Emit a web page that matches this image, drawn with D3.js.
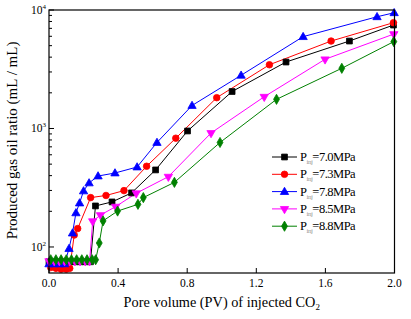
<!DOCTYPE html>
<html><head><meta charset="utf-8">
<script src="https://cdn.jsdelivr.net/npm/d3@7/dist/d3.min.js"></script>
<style>body{margin:0;background:#fff}svg{display:block}text{font-family:"Liberation Serif","Times New Roman",serif}</style>
</head><body><svg id="c" width="411" height="319"></svg>
<script>
const seriesNames = ["7.0MPa","7.3MPa","7.8MPa","8.5MPa","8.8MPa"];
const seriesColors = ["#000000","#ff0000","#0000ff","#ff00ff","#008000"];
const seriesSymbols = ["square","circle","triangle","triangleDown","diamond"];
const p70x = [0.00,0.03,0.06,0.09,0.12,0.15,0.18,0.21,0.24,0.269,0.365,0.478,0.617,0.802,1.060,1.372,1.739,1.994];
const p70y = [75,75,75,75,75,75,75,75,75,222,240,286,447,953,2051,3638,5470,7464];
const p73x = [0.01,0.04,0.07,0.10,0.12,0.146,0.166,0.241,0.330,0.434,0.565,0.734,0.971,1.276,1.633,1.994];
const p73y = [67,66,65,65,66,126,143,261,272,299,480,828,1820,3451,5470,7816];
const p78x = [0.00,0.03,0.06,0.09,0.116,0.136,0.156,0.177,0.200,0.232,0.284,0.382,0.510,0.625,0.828,1.112,1.471,1.899,1.998];
const p78y = [72,72,72,72,97,131,194,235,297,347,397,421,473,762,1563,2812,5957,8770,9480];
const p85x = [0.00,0.03,0.06,0.09,0.12,0.15,0.18,0.21,0.235,0.253,0.298,0.386,0.505,0.691,0.938,1.246,1.598,1.996];
const p85y = [76,76,76,76,76,76,76,76,76,165,186,219,284,392,916,1853,3837,6266];
const p88x = [0.01,0.04,0.07,0.10,0.13,0.16,0.19,0.22,0.25,0.27,0.291,0.313,0.397,0.515,0.546,0.726,0.990,1.317,1.695,1.996];
const p88y = [78,78,78,78,78,78,78,78,78,78,108,166,201,229,261,351,762,1762,3221,5410];
const xTicks = [0.0,0.4,0.8,1.2,1.6,2.0];
const yMajor = [100,1000,10000];
const yExp = ["2","3","4"];
const xs = [p70x,p73x,p78x,p85x,p88x];
const ys = [p70y,p73y,p78y,p85y,p88y];

const svg = d3.select("#c");
const L=49,R=394.5,T=10,B=273;
const x = d3.scaleLinear().domain([0,2]).range([L,R]);
const y = d3.scaleLog().domain([60.3,10000]).range([B,T]);

svg.append("clipPath").attr("id","cp").append("rect").attr("x",L).attr("y",T).attr("width",R-L).attr("height",B-T);

const symMap = {square:d3.symbolSquare,circle:d3.symbolCircle,triangle:d3.symbolTriangle,triangleDown:d3.symbolTriangle,diamond:d3.symbolDiamond};
const symSize = {square:34,circle:34,triangle:30,triangleDown:30,diamond:30};
function drawMarker(g,sym,color,cx,cy){
  const p = g.append("path").attr("d",d3.symbol().type(symMap[sym]).size(symSize[sym])())
    .attr("fill",color).attr("stroke",color).attr("stroke-width",0.8);
  let tr = `translate(${cx},${cy})`;
  if(sym==="triangleDown") tr += " rotate(180)";
  if(sym==="triangle") tr = `translate(${cx},${cy+0.5})`;
  p.attr("transform",tr);
}
const plotG = svg.append("g").attr("clip-path","url(#cp)");
seriesNames.forEach((n,i)=>{
  const pts = xs[i].map((v,k)=>[v,ys[i][k]]);
  plotG.append("path").datum(pts).attr("fill","none").attr("stroke",seriesColors[i]).attr("stroke-width",1)
    .attr("d",d3.line().x(d=>x(d[0])).y(d=>y(d[1])));
});
seriesNames.forEach((n,i)=>{
  const g = svg.append("g");
  xs[i].forEach((v,k)=>drawMarker(g,seriesSymbols[i],seriesColors[i],x(v),y(ys[i][k])));
});

svg.append("rect").attr("x",L).attr("y",T).attr("width",R-L).attr("height",B-T).attr("fill","none").attr("stroke","#000").attr("stroke-width",1.2);

const xa = svg.append("g");
xTicks.forEach(t=>{
  xa.append("line").attr("x1",x(t)).attr("x2",x(t)).attr("y1",B).attr("y2",B-5).attr("stroke","#000");
  xa.append("text").attr("x",x(t)).attr("y",B+14).attr("text-anchor","middle").attr("font-size",11.5).text(d3.format(".1f")(t));
});
const ya = svg.append("g");
for(let d=100; d<10000; d*=10){
  for(let m=2;m<=9;m++){
    const v=d*m;
    ya.append("line").attr("x1",L).attr("x2",L+3).attr("y1",y(v)).attr("y2",y(v)).attr("stroke","#000");
  }
}
yMajor.forEach((v,i)=>{
  ya.append("line").attr("x1",L).attr("x2",L+5).attr("y1",y(v)).attr("y2",y(v)).attr("stroke","#000");
  const t = ya.append("text").attr("x",L-3).attr("y",y(v)+4).attr("text-anchor","end").attr("font-size",11.5);
  t.append("tspan").text("10");
  t.append("tspan").attr("dy",-5).attr("font-size",7).text(yExp[i]);
});

svg.append("text").attr("x",(L+R)/2).attr("y",307).attr("text-anchor","middle").attr("font-size",14.3)
  .call(t=>{t.append("tspan").text("Pore volume (PV) of injected CO");t.append("tspan").attr("dy",3).attr("font-size",9).text("2");});
svg.append("text").attr("transform",`translate(17,${(T+B)/2 - 1}) rotate(-90)`).attr("text-anchor","middle").attr("font-size",15)
  .text("Produced gas oil ratio (mL / mL)");

const lg = svg.append("g");
seriesNames.forEach((n,i)=>{
  const ly = 157 + i*17.3;
  lg.append("line").attr("x1",272).attr("x2",297).attr("y1",ly).attr("y2",ly).attr("stroke",seriesColors[i]).attr("stroke-width",1);
  drawMarker(lg,seriesSymbols[i],seriesColors[i],284.5,ly);
  const t = lg.append("text").attr("x",300).attr("y",ly+4).attr("font-size",12.5).attr("letter-spacing",-0.5);
  t.append("tspan").text("P");
  t.append("tspan").attr("dy",3).attr("font-size",7).attr("fill","#999").text("inj");
  t.append("tspan").attr("dy",-3).text("="+n);
});
</script></body></html>
